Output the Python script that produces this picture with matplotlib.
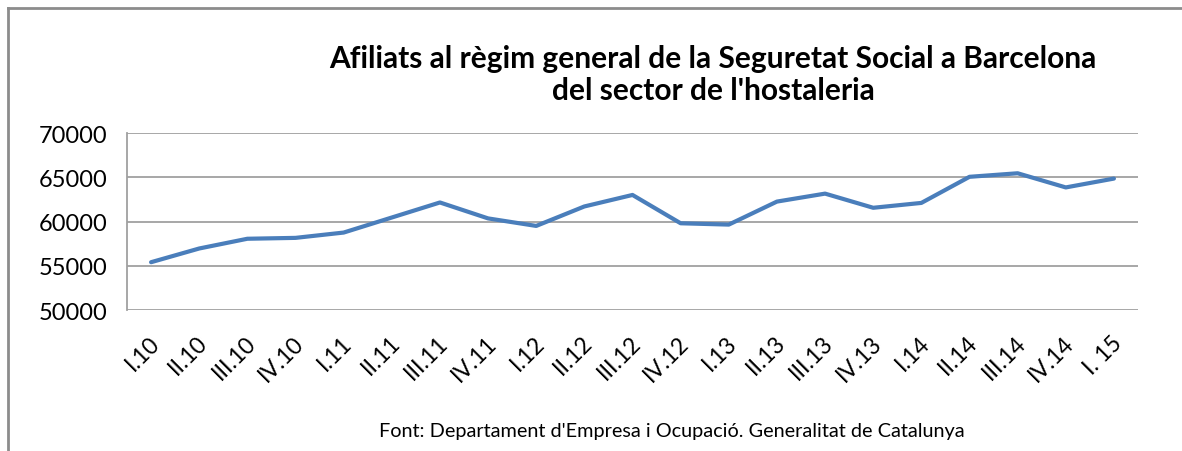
import matplotlib.pyplot as plt
import matplotlib.transforms as mtransforms
from matplotlib.lines import Line2D

# quarters and affiliates
quarters = ["I.10", "II.10", "III.10", "IV.10",
            "I.11", "II.11", "III.11", "IV.11",
            "I.12", "II.12", "III.12", "IV.12",
            "I.13", "II.13", "III.13", "IV.13",
            "I.14", "II.14", "III.14", "IV.14", "I. 15"]
afiliats = [55400, 56950, 58050, 58150,
            58750, 60450, 62150, 60350,
            59500, 61700, 63000, 59800,
            59650, 62250, 63150, 61550,
            62100, 65050, 65450, 63850, 64850]
yticks = [50000, 55000, 60000, 65000, 70000]

title = "Afiliats al règim general de la Seguretat Social a Barcelona\ndel sector de l'hostaleria"
font_note = "Font: Departament d'Empresa i Ocupació. Generalitat de Catalunya"

plt.rcParams['font.family'] = ['Lato', 'DejaVu Sans']

fig = plt.figure(figsize=(11.82, 4.52), dpi=100)
ax = fig.add_axes([127/1182, 1 - 311/452, (1138 - 127)/1182, (311 - 134)/452])

x = list(range(len(quarters)))
ax.plot(x, afiliats, color="#4A7EBB", linewidth=3.0, solid_joinstyle="round",
        solid_capstyle="round", zorder=3)

ax.set_xlim(-0.5, len(quarters) - 0.5)
ax.set_ylim(50000, 70000)
ax.set_yticks(yticks)
ax.set_yticklabels([str(v) for v in yticks], fontsize=17)
ax.set_xticks(x)
ax.set_xticklabels(quarters, fontsize=16.5, rotation=45, ha="right", va="center",
                   rotation_mode="anchor")
ax.tick_params(axis="y", length=0, pad=14)
ax.tick_params(axis="x", length=0, pad=21)
shift = mtransforms.ScaledTranslation(5/100, 0, fig.dpi_scale_trans)
for lab in ax.get_xticklabels():
    lab.set_transform(lab.get_transform() + shift)

ax.grid(axis="y", color="#A0A0A0", linewidth=1.3)
ax.set_axisbelow(True)
for side in ["top", "right", "bottom"]:
    ax.spines[side].set_visible(False)
ax.spines["left"].set_color("#A0A0A0")
ax.spines["left"].set_linewidth(1.3)

fig.text(713/1182, 1 - 75/452, title, ha="center", va="center",
         fontsize=21.5, fontweight="bold", linespacing=1.2)
fig.text(672/1182, 1 - 432/452, font_note, ha="center", va="center",
         fontsize=14.3)

# outer frame of the chart object (left and top edges visible)
fig.add_artist(Line2D([8/1182, 8/1182], [0, 1 - 9/452], transform=fig.transFigure,
                      color="#8C8C8C", linewidth=2))
fig.add_artist(Line2D([8/1182, 1], [1 - 9/452, 1 - 9/452], transform=fig.transFigure,
                      color="#8C8C8C", linewidth=2))

fig.savefig("out.png", dpi=100, facecolor="white")
